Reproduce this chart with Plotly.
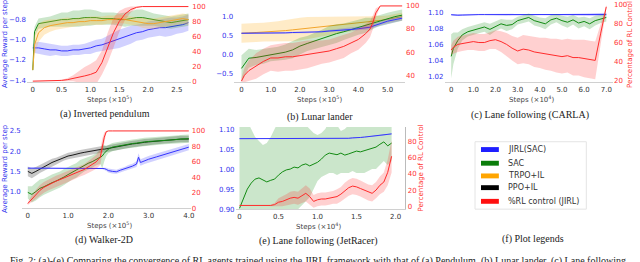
import plotly.graph_objects as go

# ---------------- DATA ----------------
# (a) Inverted pendulum, steps x1e5
a_x = [0, 0.03, 0.1, 0.2, 0.3, 0.4, 0.5, 0.6, 0.7, 0.8, 0.9, 1.0, 1.1, 1.2, 1.3, 1.4, 1.5,
       1.6, 1.7, 1.8, 1.9, 2.0, 2.1, 2.2, 2.3, 2.4, 2.5, 2.6, 2.7]
a_jirl = [-1.08, -1.08, -1.08, -1.09, -1.10, -1.10, -1.11, -1.11, -1.10, -1.10, -1.09, -1.08, -1.06,
          -1.05, -1.03, -1.01, -0.99, -0.97, -0.95, -0.93, -0.92, -0.90, -0.89, -0.88, -0.88, -0.87,
          -0.86, -0.85, -0.83]
a_jirl_sd = [0.03, 0.05, 0.06, 0.06, 0.06, 0.05, 0.05, 0.05, 0.05, 0.05, 0.05, 0.06, 0.06, 0.06, 0.07,
             0.08, 0.09, 0.09, 0.09, 0.08, 0.08, 0.08, 0.08, 0.08, 0.09, 0.09, 0.08, 0.08, 0.08]
a_sac = [-1.30, -0.92, -0.84, -0.83, -0.82, -0.81, -0.80, -0.80, -0.79, -0.79, -0.78, -0.78, -0.78,
         -0.79, -0.79, -0.79, -0.80, -0.80, -0.79, -0.78, -0.78, -0.79, -0.80, -0.81, -0.82, -0.83,
         -0.82, -0.81, -0.80]
a_sac_sd = [0.02, 0.05, 0.05, 0.05, 0.05, 0.06, 0.07, 0.07, 0.08, 0.08, 0.08, 0.08, 0.07, 0.06, 0.06,
            0.06, 0.06, 0.07, 0.07, 0.08, 0.08, 0.07, 0.06, 0.06, 0.06, 0.06, 0.06, 0.06, 0.06]
a_trpo = [-1.30, -1.05, -0.93, -0.88, -0.86, -0.85, -0.84, -0.83, -0.83, -0.82, -0.82, -0.81, -0.81,
          -0.81, -0.80, -0.80, -0.79, -0.80, -0.81, -0.82, -0.83, -0.84, -0.84, -0.83, -0.82, -0.81,
          -0.80, -0.79, -0.80]
a_trpo_sd = [0.02, 0.10, 0.09, 0.07, 0.06, 0.05, 0.05, 0.05, 0.04, 0.04, 0.04, 0.04, 0.04, 0.04, 0.04,
             0.04, 0.04, 0.04, 0.04, 0.04, 0.05, 0.05, 0.05, 0.05, 0.05, 0.05, 0.05, 0.05, 0.05]
a_rl = [0, 0, 0, 0, 0, 0.5, 1, 2, 4, 6, 7, 9, 12, 25, 45, 65, 80, 90, 96, 99, 100, 100, 100, 100,
        100, 100, 100, 100, 100]
a_rl_sd = [0, 0, 0, 0, 0, 0.5, 1, 2, 4, 8, 12, 14, 16, 16, 20, 20, 14, 8, 4, 1, 0, 0, 0, 0, 0, 0, 0, 0, 0]

# (b) Lunar lander, steps x1e5
b_x = [0, 0.1, 0.25, 0.5, 0.75, 1.0, 1.25, 1.5, 1.75, 2.0, 2.25, 2.5, 2.75, 3.0, 3.25, 3.5, 3.75,
       4.0, 4.25, 4.4, 4.5, 4.6, 4.75, 5.0, 5.25, 5.5]
b_jirl = [0.56, 0.56, 0.56, 0.56, 0.56, 0.57, 0.57, 0.57, 0.58, 0.58, 0.58, 0.59, 0.60, 0.62, 0.63,
          0.64, 0.66, 0.68, 0.70, 0.72, 0.75, 0.78, 0.82, 0.88, 0.92, 0.96]
b_jirl_sd = [0.02, 0.02, 0.02, 0.02, 0.02, 0.02, 0.02, 0.02, 0.02, 0.02, 0.02, 0.02, 0.03, 0.03, 0.04,
             0.04, 0.04, 0.04, 0.05, 0.05, 0.06, 0.06, 0.06, 0.06, 0.06, 0.06]
b_sac = [-0.37, -0.25, -0.10, -0.08, -0.05, 0.00, 0.02, 0.06, 0.12, 0.22, 0.29, 0.36, 0.43, 0.50, 0.55,
         0.60, 0.66, 0.72, 0.77, 0.80, 0.82, 0.86, 0.90, 0.95, 1.00, 1.04]
b_sac_sd = [0.35, 0.30, 0.25, 0.20, 0.20, 0.18, 0.18, 0.20, 0.22, 0.22, 0.20, 0.20, 0.22, 0.25, 0.25,
            0.22, 0.20, 0.20, 0.20, 0.18, 0.15, 0.15, 0.15, 0.15, 0.15, 0.15]
b_trpo = [0.56, 0.56, 0.57, 0.58, 0.59, 0.60, 0.61, 0.63, 0.65, 0.67, 0.69, 0.71, 0.73, 0.75, 0.77,
          0.79, 0.81, 0.83, 0.85, 0.86, 0.87, 0.88, 0.90, 0.93, 0.97, 1.00]
b_trpo_sd = [0.25, 0.25, 0.25, 0.25, 0.25, 0.25, 0.27, 0.28, 0.30, 0.30, 0.30, 0.28, 0.26, 0.24, 0.22,
             0.20, 0.20, 0.18, 0.16, 0.15, 0.15, 0.15, 0.12, 0.10, 0.10, 0.10]
b_rl = [35, 40, 44, 48, 52, 55, 55, 56, 56, 57, 58, 59, 60, 61, 63, 65, 68, 71, 76, 80, 86, 94, 100,
        100, 100, 100]
b_rl_sd = [3, 6, 9, 11, 11, 11, 12, 12, 12, 12, 12, 11, 10, 10, 10, 10, 9, 9, 8, 7, 6, 4, 0, 0, 0, 0]

# (c) Lane following (CARLA), steps x1e4
c_x = [0, 0.1, 0.3, 0.5, 0.75, 1.0, 1.25, 1.5, 1.75, 2.0, 2.25, 2.5, 2.75, 3.0, 3.25, 3.5, 3.75,
       4.0, 4.25, 4.5, 4.75, 5.0, 5.25, 5.5, 5.75, 6.0, 6.25, 6.5, 6.75, 7.0]
c_jirl = [1.0975, 1.0972, 1.0968, 1.0970, 1.0974, 1.0975, 1.0976, 1.0976, 1.0976, 1.0976, 1.0978,
          1.0977, 1.0976, 1.0976, 1.0977, 1.0978, 1.0978, 1.0977, 1.0976, 1.0976, 1.0976, 1.0977,
          1.0977, 1.0978, 1.0977, 1.0976, 1.0975, 1.0976, 1.0977, 1.0978]
c_jirl_sd = [0.001, 0.0015, 0.0015, 0.0015, 0.0012, 0.0008, 0.0005, 0.0005, 0.0005, 0.0008, 0.0012,
             0.0015, 0.0012, 0.0005, 0.0005, 0.0012, 0.0012, 0.0008, 0.0005, 0.0005, 0.0005, 0.0005,
             0.0008, 0.0012, 0.0008, 0.0012, 0.0015, 0.0018, 0.0020, 0.0022]
c_sac = [1.045, 1.055, 1.065, 1.072, 1.076, 1.078, 1.080, 1.082, 1.079, 1.083, 1.086, 1.084, 1.085,
         1.090, 1.092, 1.094, 1.090, 1.088, 1.086, 1.091, 1.093, 1.090, 1.088, 1.091, 1.087, 1.089,
         1.086, 1.090, 1.092, 1.094]
c_sac_sd = [0.028, 0.020, 0.010, 0.007, 0.006, 0.006, 0.006, 0.006, 0.007, 0.006, 0.006, 0.007, 0.006,
            0.005, 0.005, 0.005, 0.006, 0.006, 0.007, 0.006, 0.005, 0.006, 0.007, 0.006, 0.007, 0.006,
            0.007, 0.006, 0.005, 0.005]
c_rl = [52, 55, 58, 59, 60, 61, 60, 60, 62, 63, 61, 58, 54, 51, 53, 52, 50, 49, 48, 47, 46, 45, 46, 44,
        44, 43, 42, 41, 70, 98]
c_rl_sd = [5, 7, 8, 8, 8, 9, 9, 9, 9, 10, 11, 12, 13, 14, 15, 15, 16, 16, 17, 17, 18, 18, 18, 19, 19,
           20, 20, 20, 10, 2]

# (d) Walker-2D, steps x1e5
d_x = [0, 0.1, 0.2, 0.3, 0.4, 0.5, 0.6, 0.7, 0.8, 0.9, 1.0, 1.1, 1.2, 1.3, 1.4, 1.5, 1.6, 1.7, 1.8,
       1.85, 1.9, 1.95, 2.0, 2.1, 2.2, 2.3, 2.4, 2.5, 2.6, 2.7, 2.75, 2.8, 2.9, 3.0, 3.2, 3.4, 3.6,
       3.8, 4.0]
d_jirl = [1.58, 1.58, 1.58, 1.58, 1.58, 1.58, 1.58, 1.58, 1.58, 1.58, 1.58, 1.58, 1.58, 1.58, 1.58,
          1.58, 1.58, 1.58, 1.58, 1.58, 1.57, 1.55, 1.52, 1.50, 1.49, 1.53, 1.56, 1.60, 1.63, 1.68,
          1.85, 1.72, 1.76, 1.80, 1.86, 1.92, 1.98, 2.04, 2.10]
d_jirl_sd = [0.01, 0.01, 0.01, 0.01, 0.01, 0.01, 0.01, 0.01, 0.01, 0.01, 0.01, 0.01, 0.01, 0.01, 0.01,
             0.01, 0.01, 0.01, 0.02, 0.02, 0.03, 0.04, 0.05, 0.05, 0.05, 0.05, 0.05, 0.06, 0.06, 0.07,
             0.10, 0.08, 0.08, 0.08, 0.08, 0.08, 0.08, 0.08, 0.08]
d_ppo = [1.50, 1.45, 1.50, 1.56, 1.62, 1.67, 1.72, 1.76, 1.80, 1.85, 1.88, 1.90, 1.93, 1.95, 1.97,
         1.99, 2.00, 2.02, 2.04, 2.05, 2.05, 2.06, 2.07, 2.09, 2.10, 2.12, 2.14, 2.16, 2.18, 2.19,
         2.20, 2.20, 2.22, 2.23, 2.25, 2.27, 2.29, 2.30, 2.30]
d_ppo_sd = [0.12, 0.12, 0.11, 0.10, 0.10, 0.09, 0.09, 0.08, 0.08, 0.08, 0.08, 0.08, 0.08, 0.08, 0.08,
            0.08, 0.08, 0.08, 0.08, 0.08, 0.08, 0.08, 0.08, 0.08, 0.08, 0.08, 0.08, 0.08, 0.08, 0.08,
            0.08, 0.08, 0.08, 0.08, 0.08, 0.08, 0.08, 0.08, 0.08]
d_sac = [0.98, 0.93, 1.00, 1.08, 1.12, 1.18, 1.22, 1.26, 1.30, 1.36, 1.42, 1.48, 1.52, 1.60, 1.66,
         1.70, 1.74, 1.80, 1.86, 1.88, 1.95, 2.00, 2.05, 2.10, 2.12, 2.14, 2.16, 2.18, 2.19, 2.20,
         2.21, 2.22, 2.23, 2.24, 2.25, 2.27, 2.28, 2.30, 2.31]
d_sac_sd = [0.15, 0.20, 0.22, 0.22, 0.20, 0.20, 0.20, 0.20, 0.20, 0.20, 0.20, 0.18, 0.18, 0.18, 0.16,
            0.15, 0.15, 0.15, 0.18, 0.30, 0.20, 0.12, 0.10, 0.10, 0.10, 0.10, 0.10, 0.10, 0.10, 0.10,
            0.10, 0.10, 0.10, 0.10, 0.10, 0.10, 0.10, 0.10, 0.10]
d_rl = [6, 12, 18, 23, 27, 30, 33, 35, 37, 39, 41, 43, 45, 48, 50, 53, 56, 60, 66, 80, 92, 99, 100,
        100, 100, 100, 100, 100, 100, 100, 100, 100, 100, 100, 100, 100, 100, 100, 100]
d_rl_sd = [2, 5, 6, 7, 7, 7, 7, 7, 7, 7, 7, 7, 7, 7, 7, 8, 8, 9, 10, 10, 6, 1, 0, 0, 0, 0, 0, 0, 0, 0,
           0, 0, 0, 0, 0, 0, 0, 0, 0]

# (e) Lane following (JetRacer), steps x1e4
e_x = [0, 0.05, 0.1, 0.15, 0.2, 0.25, 0.3, 0.35, 0.4, 0.45, 0.5, 0.55, 0.6, 0.65, 0.7, 0.75, 0.8,
       0.85, 0.9, 0.95, 1.0, 1.05, 1.1, 1.15, 1.2, 1.25, 1.3, 1.35, 1.4, 1.45, 1.5, 1.55, 1.6, 1.65,
       1.7, 1.75, 1.8, 1.85, 1.9, 1.95]
e_jirl = [1.076, 1.076, 1.076, 1.076, 1.076, 1.076, 1.076, 1.076, 1.076, 1.076, 1.076, 1.076, 1.076,
          1.076, 1.076, 1.076, 1.076, 1.076, 1.076, 1.076, 1.076, 1.076, 1.076, 1.076, 1.076, 1.076,
          1.076, 1.077, 1.077, 1.078, 1.078, 1.079, 1.080, 1.081, 1.082, 1.083, 1.084, 1.085, 1.086,
          1.088]
e_jirl_sd = [0.001] * 40
e_sac = [0.902, 0.925, 0.950, 0.965, 0.975, 0.978, 0.972, 0.968, 0.972, 0.975, 0.985, 0.993, 0.998,
         1.000, 1.005, 1.003, 1.010, 1.013, 1.008, 1.012, 1.017, 1.025, 1.035, 1.040, 1.038, 1.036,
         1.040, 1.035, 1.038, 1.042, 1.045, 1.043, 1.046, 1.050, 1.052, 1.055, 1.062, 1.068, 1.058,
         1.065]
e_sac_hi = [1.12, 1.12, 1.12, 1.10, 1.08, 1.07, 1.06, 1.065, 1.08, 1.10, 1.12, 1.12, 1.12, 1.11, 1.12,
            1.12, 1.12, 1.11, 1.10, 1.09, 1.085, 1.09, 1.10, 1.12, 1.12, 1.11, 1.095, 1.10, 1.11,
            1.12, 1.12, 1.12, 1.12, 1.12, 1.12, 1.12, 1.12, 1.12, 1.12, 1.12]
e_sac_lo = [0.88, 0.88, 0.88, 0.88, 0.88, 0.88, 0.88, 0.88, 0.88, 0.88, 0.88, 0.88, 0.88, 0.89, 0.90,
            0.90, 0.91, 0.92, 0.93, 0.95, 0.97, 0.98, 0.985, 0.99, 0.99, 0.985, 0.99, 0.99, 0.99,
            0.995, 0.99, 0.99, 0.99, 0.995, 1.00, 1.00, 1.01, 1.02, 1.01, 1.02]
e_rl = [1, 1, 1, 1, 1, 1, 1, 1, 1, 2, 5, 6, 8, 10, 11, 10, 13, 16, 12, 6, 8, 9, 9, 10, 11, 12, 15,
        19, 23, 25, 24, 22, 20, 17, 16, 20, 26, 30, 42, 62]
e_rl_sd = [0, 0, 0, 0, 0, 0, 0, 0, 1, 2, 5, 6, 7, 8, 8, 8, 9, 10, 10, 8, 8, 8, 8, 8, 8, 9, 9, 10, 10,
           10, 10, 10, 10, 10, 10, 10, 11, 12, 16, 20]

legend_names = ["JIRL(SAC)", "SAC", "TRPO+IL", "PPO+IL", "%RL control (JIRL)"]
captions = ["(a) Inverted pendulum", "(b) Lunar lander", "(c) Lane following (CARLA)",
            "(d) Walker-2D", "(e) Lane following (JetRacer)", "(f) Plot legends"]

# ---------------- STYLE ----------------
W, H = 640, 262
BLUE = "#3535ff"
GREEN = "#128a12"
ORANGE = "#f2a52c"
BLACK = "#1a1a1a"
RED = "#ff2b2b"
FILL = {BLUE: "rgba(70,70,255,0.25)", GREEN: "rgba(20,140,20,0.22)",
        ORANGE: "rgba(255,190,70,0.30)", BLACK: "rgba(0,0,0,0.22)", RED: "rgba(255,40,40,0.22)"}
LEG_COLORS = ["#1f1fff", "#0a7d0a", "#ffa500", "#000000", "#ff1010"]

fig = go.Figure()


def add_series(x, mean, color, xa, ya, sd=None, lo=None, hi=None, width=1.0):
    if sd is not None:
        lo = [m - s for m, s in zip(mean, sd)]
        hi = [m + s for m, s in zip(mean, sd)]
    if lo is not None:
        fig.add_trace(go.Scatter(x=list(x) + list(x)[::-1], y=list(hi) + list(lo)[::-1],
                                 fill="toself", fillcolor=FILL[color], line=dict(width=0),
                                 mode="lines", hoverinfo="skip", showlegend=False,
                                 xaxis=xa, yaxis=ya))
    fig.add_trace(go.Scatter(x=x, y=mean, mode="lines", line=dict(color=color, width=width),
                             showlegend=False, xaxis=xa, yaxis=ya))


# (a)
add_series(a_x, a_jirl, BLUE, "x", "y", sd=a_jirl_sd)
add_series(a_x, a_sac, GREEN, "x", "y", sd=a_sac_sd)
add_series(a_x, a_trpo, ORANGE, "x", "y", sd=a_trpo_sd)
add_series(a_x, a_rl, RED, "x", "y6", sd=a_rl_sd)
# (b)
add_series(b_x, b_trpo, ORANGE, "x2", "y2", sd=b_trpo_sd)
add_series(b_x, b_sac, GREEN, "x2", "y2", sd=b_sac_sd)
add_series(b_x, b_jirl, BLUE, "x2", "y2", sd=b_jirl_sd)
add_series(b_x, b_rl, RED, "x2", "y7", sd=b_rl_sd)
# (c)
add_series(c_x, c_jirl, BLUE, "x3", "y3", sd=c_jirl_sd)
add_series(c_x, c_sac, GREEN, "x3", "y3", sd=c_sac_sd)
add_series(c_x, c_rl, RED, "x3", "y8", sd=c_rl_sd)
# (d)
add_series(d_x, d_ppo, BLACK, "x4", "y4", sd=d_ppo_sd)
add_series(d_x, d_sac, GREEN, "x4", "y4", sd=d_sac_sd)
add_series(d_x, d_jirl, BLUE, "x4", "y4", sd=d_jirl_sd)
add_series(d_x, d_rl, RED, "x4", "y9", sd=d_rl_sd)
# (e)
add_series(e_x, e_sac, GREEN, "x5", "y5", lo=e_sac_lo, hi=e_sac_hi)
add_series(e_x, e_jirl, BLUE, "x5", "y5", sd=e_jirl_sd)
add_series(e_x, e_rl, RED, "x5", "y10", sd=e_rl_sd)


def xdom(x0, s, r):
    return [(x0 + r[0] * s) / W, (x0 + r[1] * s) / W]


def ydom(top, bot):
    return [1 - bot / H, 1 - top / H]


TF = dict(family="DejaVu Sans", size=7)


def xax(x0, s, r, anchor, vals, texts):
    return dict(domain=xdom(x0, s, r), range=r, anchor=anchor, tickvals=vals, ticktext=texts,
                tickfont=dict(TF, color="#333333"), showgrid=False, zeroline=False,
                showline=True, linecolor="#d0d0d0", linewidth=1, ticks="", ticklen=0)


def ylax(dom, r, vals, texts, anchor):
    return dict(domain=dom, range=r, anchor=anchor, tickvals=vals, ticktext=texts,
                tickfont=dict(TF, color="#3333ee"), showgrid=False, zeroline=False,
                showline=False, ticks="")


def yrax(over, anchor, r, vals, line=False):
    return dict(overlaying=over, anchor=anchor, side="right", range=r, tickvals=vals,
                ticktext=[str(v) for v in vals], tickfont=dict(TF, color="#ff3333"),
                showgrid=False, zeroline=False, showline=line, linecolor="#bbbbbb", ticks="")


top = ydom(2, 82)
d_dom = ydom(128, 211)
e_dom = ydom(128, 212)

fig.update_layout(
    width=W, height=H, margin=dict(l=0, r=0, t=0, b=0),
    paper_bgcolor="white", plot_bgcolor="white", showlegend=False,
    xaxis=xax(33, 58, [-0.1, 2.75], "y", [0, 0.5, 1.0, 1.5, 2.0, 2.5],
              ["0", "0.5", "1.0", "1.5", "2.0", "2.5"]),
    xaxis2=xax(243, 29.4, [-0.25, 5.6], "y2", [0, 1, 2, 3, 4, 5],
               ["0", "1.0", "2.0", "3.0", "4.0", "5.0"]),
    xaxis3=xax(454, 22.3, [-0.3, 7.3], "y3", [0, 1, 2, 3, 4, 5, 6, 7],
               ["0", "1.0", "2.0", "3.0", "4.0", "5.0", "6.0", "7.0"]),
    xaxis4=xax(28, 40.5, [-0.15, 4.05], "y4", [0, 1, 2, 3, 4],
               ["0", "1.0", "2.0", "3.0", "4.0"]),
    xaxis5=xax(241, 78.5, [-0.05, 2.127], "y5", [0, 0.5, 1.0, 1.5, 2.0],
               ["0", "0.5", "1.0", "1.5", "2.0"]),
    yaxis=ylax(top, [-1.419, -0.645], [-1.4, -1.2, -1.0, -0.8],
               ["\u22121.4", "\u22121.2", "\u22121.0", "\u22120.8"], "x"),
    yaxis2=ylax(top, [-0.733, 1.336], [-0.5, 0.0, 0.5, 1.0], ["\u22120.5", "0.0", "0.5", "1.0"], "x2"),
    yaxis3=ylax(top, [1.0126, 1.111], [1.02, 1.04, 1.06, 1.08, 1.10],
                ["1.02", "1.04", "1.06", "1.08", "1.10"], "x3"),
    yaxis4=ylax(d_dom, [0.589, 2.597], [1.0, 1.5, 2.0, 2.5], ["1.0", "1.5", "2.0", "2.5"], "x4"),
    yaxis5=ylax(e_dom, [0.9, 1.105], [0.90, 0.95, 1.00, 1.05, 1.10],
                ["0.90", "0.95", "1.00", "1.05", "1.10"], "x5"),
    yaxis6=yrax("y", "x", [-1.3, 103.5], [0, 20, 40, 60, 80, 100]),
    yaxis7=yrax("y2", "x2", [34.1, 101.7], [40, 60, 80, 100]),
    yaxis8=yrax("y3", "x3", [17.9, 101], [20, 40, 60, 80, 100]),
    yaxis9=yrax("y4", "x4", [0, 105], [0, 20, 40, 60, 80, 100]),
    yaxis10=yrax("y5", "x5", [-3.6, 98.2], [0, 20, 40, 60, 80], line=True),
)

ann = []


def txt(t, px, py, size, color, family="DejaVu Sans", angle=0, xanchor="center"):
    ann.append(dict(text=t, x=px / W, y=1 - py / H, xref="paper", yref="paper", showarrow=False,
                    font=dict(family=family, size=size, color=color), textangle=angle,
                    xanchor=xanchor, yanchor="middle"))


# axis titles
for px, py in [(110, 99), (322, 99), (110, 228)]:
    txt("Steps (\u00d710<sup>5</sup>)", px, py, 7, "#444444")
for px, py in [(535, 99), (320, 229)]:
    txt("Steps (\u00d710<sup>4</sup>)", px, py, 7, "#444444")
txt("Average Reward per step", 5, 42, 7, "#3333ee", angle=-90)
txt("Average Reward per step", 5, 170, 7, "#3333ee", angle=-90)
txt("Percentage of RL Control", 634, 44, 7, "#ff3333", angle=-90)
txt("Percentage of RL Control", 424, 170, 7, "#ff3333", angle=-90)

# captions
serif = "Liberation Serif"
txt(captions[0], 106, 115, 10, "#222222", serif)
txt(captions[1], 322, 118, 10, "#222222", serif)
txt(captions[2], 533, 116, 10, "#222222", serif)
txt(captions[3], 105, 244, 10, "#222222", serif)
txt(captions[4], 320, 245, 10, "#222222", serif)
txt(captions[5], 536, 243, 10, "#222222", serif)
txt("Fig. 2: (a)-(e) Comparing the convergence of RL agents trained using the JIRL framework "
    "with that of (a) Pendulum, (b) Lunar lander, (c) Lane following", 320, 265, 10, "#222222", serif)

# legend panel
shapes = [dict(type="rect", xref="paper", yref="paper", x0=478 / W, x1=590 / W,
               y0=1 - 212 / H, y1=1 - 143 / H, line=dict(color="#e4e4e4", width=1),
               fillcolor="white", layer="below")]
for i, (name, col) in enumerate(zip(legend_names, LEG_COLORS)):
    py = [151, 165, 178, 190, 204][i]
    shapes.append(dict(type="rect", xref="paper", yref="paper", x0=484 / W, x1=502 / W,
                       y0=1 - (py + 2.5) / H, y1=1 - (py - 2.5) / H, line=dict(width=0),
                       fillcolor=col))
    txt(name, 509, py, 8, "#333333", xanchor="left")

fig.update_layout(annotations=ann, shapes=shapes)
fig.write_html("out.html", config={"displayModeBar": False},
               post_script="document.body.style.margin='0';")
